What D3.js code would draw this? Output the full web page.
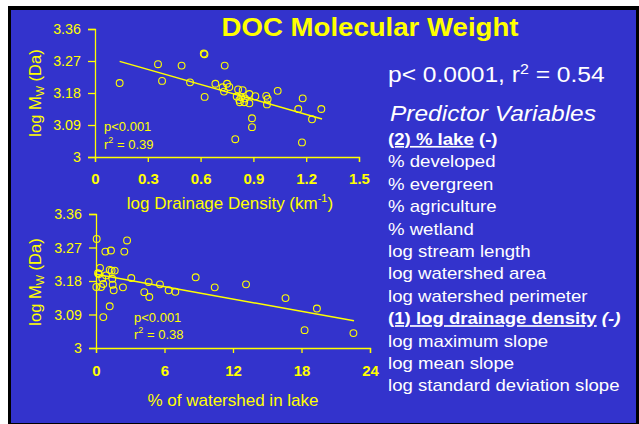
<!DOCTYPE html>
<html>
<head>
<meta charset="utf-8">
<script src="https://cdn.jsdelivr.net/npm/d3@7"></script>
<style>
  body { margin: 0; background: #fff; }
  svg { display: block; }
</style>
</head>
<body>
<div id="chart"></div>
<script>
// top panel: log drainage density vs log Mw
var drainX = [0.14, 0.358, 0.381, 0.492, 0.54, 0.618, 0.622, 0.623, 0.684, 0.737, 0.725, 0.733, 0.75, 0.763,
  0.797, 0.813, 0.839, 0.805, 0.82, 0.823, 0.852, 0.848, 0.877, 0.877, 0.892, 0.892, 0.911,
  0.973, 0.981, 0.977, 1.038, 1.155, 1.18, 1.176, 1.233, 1.286, 0.83];
var drainY = [3.208, 3.261, 3.214, 3.257, 3.210, 3.291, 3.289, 3.169, 3.206, 3.257, 3.196, 3.184, 3.206, 3.197,
  3.050, 3.190, 3.188, 3.170, 3.160, 3.154, 3.165, 3.154, 3.177, 3.151, 3.109, 3.084, 3.171,
  3.172, 3.163, 3.148, 3.186, 3.135, 3.165, 3.041, 3.106, 3.135, 3.168];
var drainFitX = [0.14, 1.29];
var drainFitY = [3.269, 3.107];

// bottom panel: % of watershed in lake vs log Mw
var lakeX = [0.06, 2.72, 0.82, 1.31, 2.48, 0.35, 0.18, 1.2, 1.37, 1.64, 0.55, 0.64, 0.44, 0.03, 1.43, 1.46,
  1.55, 3.09, 2.36, 4.61, 4.23, 4.67, 5.6, 6.36, 6.95, 8.73, 10.4, 13.14, 16.6, 18.27, 19.35,
  22.55, 1.2, 0.64, 0.26, 0.88];
var lakeY = [3.293, 3.289, 3.259, 3.262, 3.259, 3.215, 3.201, 3.210, 3.208, 3.208, 3.187, 3.172, 3.164, 3.164,
  3.186, 3.170, 3.155, 3.188, 3.163, 3.177, 3.150, 3.137, 3.171, 3.155, 3.151, 3.190, 3.163,
  3.171, 3.134, 3.048, 3.106, 3.040, 3.112, 3.083, 3.199, 3.195];
var lakeFitX = [0, 22.6];
var lakeFitY = [3.198, 3.073];

var yTicks = [3, 3.09, 3.18, 3.27, 3.36];
var drainTicks = [0, 0.3, 0.6, 0.9, 1.2, 1.5];
var lakeTicks = [0, 6, 12, 18, 24];

var predictors = ["(2) % lake", "% developed", "% evergreen", "% agriculture", "% wetland",
  "log stream length", "log watershed area", "log watershed perimeter", "(1) log drainage density",
  "log maximum slope", "log mean slope", "log standard deviation slope"];
var chosen = ["(2) % lake", "(1) log drainage density"];

var width = 639, height = 424;
var blue = "#3333cc", yellow = "#ffff00";
var font = "Arial, 'Liberation Sans', sans-serif";

var svg = d3.select("#chart").append("svg")
  .attr("width", width)
  .attr("height", height)
  .style("font-family", font);

// slide frame
svg.append("rect").attr("x", 0).attr("y", 0).attr("width", width).attr("height", height).attr("fill", "#fff");
svg.append("rect").attr("x", 8).attr("y", 6).attr("width", width - 8).attr("height", height - 6).attr("fill", "#000");
svg.append("rect").attr("x", 11).attr("y", 10).attr("width", 625).attr("height", 413).attr("fill", blue);

// text squeezed a bit vertically, like the slide picture
function squashText(x, y, sy) {
  return svg.append("g")
    .attr("transform", "translate(" + x + "," + y + ") scale(1," + sy + ")")
    .append("text");
}

squashText(370, 36, 0.93)
  .attr("text-anchor", "middle")
  .attr("font-weight", "bold")
  .attr("font-size", 27.6)
  .attr("fill", yellow)
  .text("DOC Molecular Weight");

var stat = squashText(388, 81.5, 0.9)
  .attr("font-size", 24.6)
  .attr("fill", "#fff");
stat.append("tspan").text("p< 0.0001, r");
stat.append("tspan").attr("font-size", 16).attr("dy", -8).text("2");
stat.append("tspan").attr("dy", 8).text(" = 0.54");

squashText(390, 121, 0.9)
  .attr("font-size", 24.5)
  .attr("font-style", "italic")
  .attr("fill", "#fff")
  .text("Predictor Variables");

predictors.forEach(function(p, i) {
  var t = squashText(388, 145 + i * 22.4, 0.9)
    .attr("font-size", 18.6)
    .attr("fill", "#fff");
  if (chosen.indexOf(p) >= 0) {
    t.attr("font-weight", "bold");
    t.append("tspan").attr("text-decoration", "underline").text(p);
    t.append("tspan").attr("font-style", i > 0 ? "italic" : null).text(" (-)");
  } else {
    t.text(p);
  }
});

// one scatter panel
function panel(opt) {
  var x = d3.scaleLinear().domain(opt.xDomain).range(opt.xRange);
  var y = d3.scaleLinear().domain([3, 3.36]).range(opt.yRange);

  var xAxis = svg.append("g")
    .attr("transform", "translate(0," + opt.yRange[0] + ")")
    .call(d3.axisBottom(x).tickValues(opt.xTicks).tickFormat(String).tickSize(5).tickPadding(opt.xPad));
  var yAxis = svg.append("g")
    .attr("transform", "translate(" + opt.xRange[0] + ",0)")
    .call(d3.axisLeft(y).tickValues(yTicks).tickFormat(String).tickSize(7).tickPadding(7));

  [xAxis, yAxis].forEach(function(a) {
    a.attr("font-family", font);
    a.select(".domain").attr("stroke", yellow).attr("stroke-width", 1.3);
    a.selectAll(".tick line").attr("stroke", yellow).attr("stroke-width", 1.3);
    a.selectAll(".tick text").attr("fill", yellow);
  });
  xAxis.selectAll(".tick text").attr("font-size", 15).attr("font-weight", "bold");
  yAxis.selectAll(".tick text").attr("font-size", 14.3);

  svg.append("g").selectAll("circle")
    .data(opt.xs)
    .enter()
    .append("circle")
    .attr("cx", function(d) { return x(d); })
    .attr("cy", function(d, i) { return y(opt.ys[i]); })
    .attr("r", 3.4)
    .attr("fill", "none")
    .attr("stroke", yellow)
    .attr("stroke-width", 1.1);

  svg.append("line")
    .attr("x1", x(opt.fitX[0])).attr("y1", y(opt.fitY[0]))
    .attr("x2", x(opt.fitX[1])).attr("y2", y(opt.fitY[1]))
    .attr("stroke", yellow)
    .attr("stroke-width", 1.5);

  // p and r2 note
  svg.append("text")
    .attr("x", opt.noteX).attr("y", opt.noteY)
    .attr("font-size", 13).attr("fill", yellow)
    .text("p<0.001");
  var r2 = svg.append("text")
    .attr("x", opt.noteX).attr("y", opt.noteY + 17.5)
    .attr("font-size", 13).attr("fill", yellow);
  r2.append("tspan").text("r");
  r2.append("tspan").attr("font-size", 9).attr("dy", -6).text("2");
  r2.append("tspan").attr("dy", 6).text(" = " + opt.r2);

  // y title
  var yt = svg.append("text")
    .attr("transform", "translate(41," + opt.yTitleY + ") rotate(-90)")
    .attr("text-anchor", "middle")
    .attr("font-size", 16.5)
    .attr("fill", yellow);
  yt.append("tspan").text("log M");
  yt.append("tspan").attr("font-size", 11).attr("dy", 3).text("W");
  yt.append("tspan").attr("dy", -3).text(" (Da)");

  // x title
  var xt = svg.append("text")
    .attr("x", opt.xTitleX).attr("y", opt.xTitleY)
    .attr("text-anchor", "middle")
    .attr("font-size", 17)
    .attr("fill", yellow);
  xt.append("tspan").text(opt.xTitle);
  if (opt.xSup) {
    xt.append("tspan").attr("font-size", 11).attr("dy", -7).text(opt.xSup);
    xt.append("tspan").attr("dy", 7).text(")");
  }
}

panel({
  xDomain: [0, 1.5], xRange: [95, 359], yRange: [157, 29],
  xTicks: drainTicks, xPad: 11.5,
  xs: drainX, ys: drainY, fitX: drainFitX, fitY: drainFitY,
  noteX: 104, noteY: 131, r2: "0.39",
  yTitleY: 93, xTitleX: 230, xTitleY: 209,
  xTitle: "log Drainage Density (km", xSup: "-1"
});

panel({
  xDomain: [0, 24], xRange: [96, 370], yRange: [348, 214],
  xTicks: lakeTicks, xPad: 12.5,
  xs: lakeX, ys: lakeY, fitX: lakeFitX, fitY: lakeFitY,
  noteX: 134, noteY: 321.5, r2: "0.38",
  yTitleY: 282, xTitleX: 233, xTitleY: 406,
  xTitle: "% of watershed in lake", xSup: null
});
</script>
</body>
</html>
